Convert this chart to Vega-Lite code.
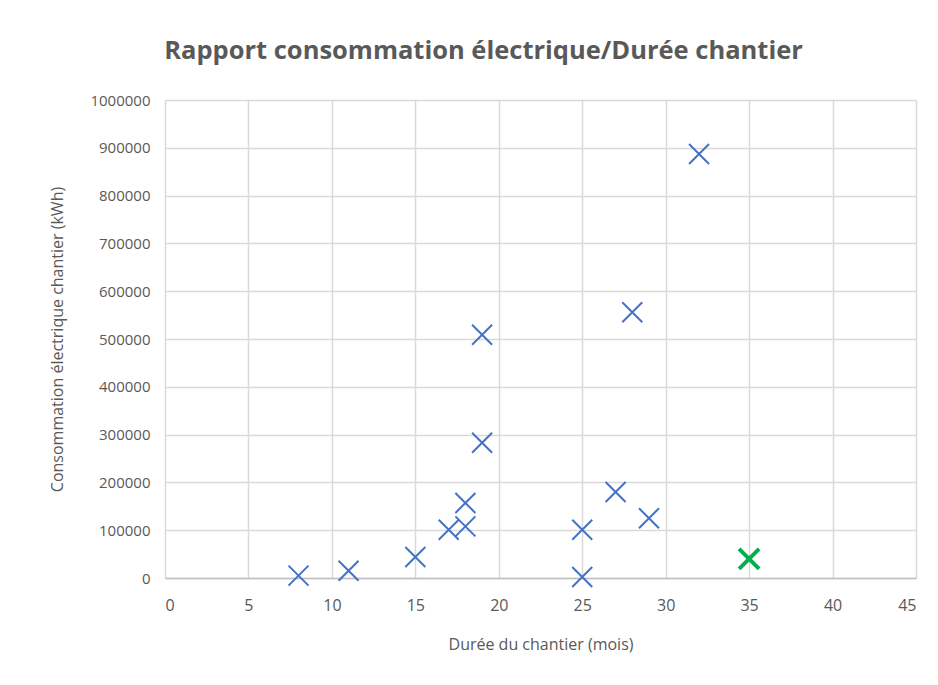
{
  "$schema": "https://vega.github.io/schema/vega-lite/v6.json",
  "autosize": "none",
  "width": 751,
  "height": 478,
  "padding": {"left": 165, "top": 100, "right": 22, "bottom": 107},
  "background": "white",
  "title": {
    "text": "Rapport consommation électrique/Durée chantier",
    "font": "Open Sans",
    "fontSize": 25.5,
    "fontWeight": "bold",
    "color": "#595959",
    "anchor": "middle",
    "dx": -57,
    "offset": 29
  },
  "config": {
    "view": {"stroke": null},
    "axis": {
      "labelFont": "Open Sans",
      "titleFont": "Open Sans",
      "labelColor": "#595959",
      "titleColor": "#595959",
      "labelFontSize": 15,
      "titleFontSize": 16,
      "titleFontWeight": "normal",
      "gridColor": "#d9d9d9",
      "gridWidth": 1.5,
      "ticks": false
    }
  },
  "data": {
    "values": [
      {"duree": 8, "conso": 5000, "groupe": "a"},
      {"duree": 11, "conso": 15000, "groupe": "a"},
      {"duree": 15, "conso": 44000, "groupe": "a"},
      {"duree": 17, "conso": 101000, "groupe": "a"},
      {"duree": 18, "conso": 108000, "groupe": "a"},
      {"duree": 18, "conso": 157000, "groupe": "a"},
      {"duree": 19, "conso": 283000, "groupe": "a"},
      {"duree": 19, "conso": 509000, "groupe": "a"},
      {"duree": 25, "conso": 101000, "groupe": "a"},
      {"duree": 25, "conso": 2000, "groupe": "a"},
      {"duree": 27, "conso": 180000, "groupe": "a"},
      {"duree": 28, "conso": 556000, "groupe": "a"},
      {"duree": 29, "conso": 125000, "groupe": "a"},
      {"duree": 32, "conso": 887000, "groupe": "a"},
      {"duree": 35, "conso": 40000, "groupe": "b"}
    ]
  },
  "mark": {
    "type": "point",
    "shape": "M-1,-1L1,1M-1,1L1,-1",
    "filled": false,
    "size": 400,
    "opacity": 1,
    "clip": false
  },
  "encoding": {
    "x": {
      "field": "duree",
      "type": "quantitative",
      "scale": {"domain": [0, 45], "nice": false},
      "axis": {
        "title": "Durée du chantier (mois)",
        "values": [0, 5, 10, 15, 20, 25, 30, 35, 40, 45],
        "labelFontSize": 16,
        "labelPadding": 19,
        "titlePadding": 23,
        "domain": true,
        "domainColor": "#bfbfbf",
        "domainWidth": 1.5
      }
    },
    "y": {
      "field": "conso",
      "type": "quantitative",
      "scale": {"domain": [0, 1000000], "nice": false},
      "axis": {
        "title": "Consommation électrique chantier (kWh)",
        "values": [0, 100000, 200000, 300000, 400000, 500000, 600000, 700000, 800000, 900000, 1000000],
        "format": "d",
        "labelPadding": 15,
        "domain": false,
        "titleX": -108,
        "titleY": 239,
        "titleBaseline": "middle"
      }
    },
    "color": {
      "field": "groupe",
      "type": "nominal",
      "scale": {"domain": ["a", "b"], "range": ["#4472C4", "#00B050"]},
      "legend": null
    },
    "strokeWidth": {
      "field": "groupe",
      "type": "nominal",
      "scale": {"domain": ["a", "b"], "range": [2, 4]},
      "legend": null
    }
  }
}
